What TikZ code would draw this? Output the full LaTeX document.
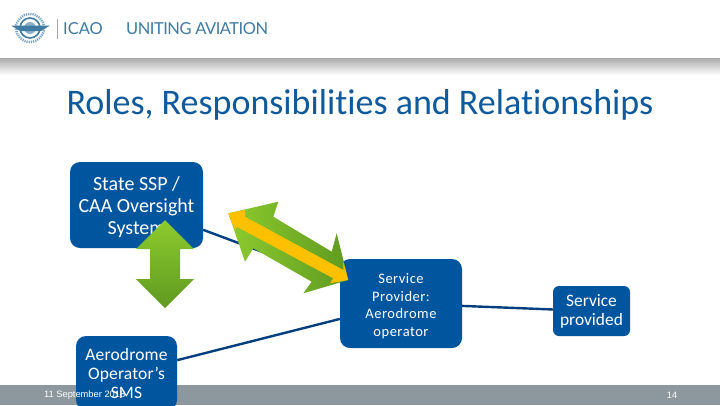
\documentclass[tikz,border=0pt]{standalone}
\usepackage{fontspec}
\setmainfont{Carlito}
\newfontfamily\footfont{Liberation Sans}
\newfontfamily\logofont{Lato}
\definecolor{boxblue}{HTML}{00559F}
\definecolor{linkblue}{HTML}{003F7F}
\definecolor{barcol}{HTML}{8C979E}
\definecolor{logoblue}{HTML}{3F7BA3}
\definecolor{titleblue}{HTML}{0F5A9C}
\definecolor{greenlight}{HTML}{8DCB2E}
\definecolor{greendark}{HTML}{5F9A20}
\definecolor{orangebar}{HTML}{FFC000}
\tikzset{
  bluebox/.style={fill=boxblue,text=white,rounded corners=#1,align=center,inner sep=0pt},
  bluebox/.default=8pt,
  link/.style={draw=linkblue,line width=2.4pt},
  footer/.style={text=white,font=\footfont\fontsize{9.3}{10}\selectfont,inner sep=0pt},
  logotext/.style={text=logoblue,inner sep=0pt,anchor=west,font=\logofont\fontsize{16.5}{18}\selectfont}
}
\begin{document}
\begin{tikzpicture}[x=1pt,y=-1pt]
\useasboundingbox (0,0) rectangle (720,405);
\fill[white] (0,0) rectangle (720,405);
% header shadow
\shade[top color=black!33,bottom color=white] (0,58) rectangle (720,75);
% logo
\draw[logoblue,line width=1.6pt] (30,28) circle (10);
\draw[logoblue!70,line width=2.4pt,dash pattern=on 1.2pt off 1pt] (30,28) circle (14);
\fill[logoblue!60] (30,28) circle (6);
\fill[logoblue] (11,25.5) -- (50,25.5) -- (41,31) -- (20,31) -- cycle;
\draw[black!35,line width=0.8pt] (57,19) -- (57,39);
\node[logotext] (icao) at (63,29) {ICAO};
\node[logotext] (uniting) at (126,29) {\addfontfeatures{LetterSpace=-3}UNITING AVIATION};
% title
\node[inner sep=0pt,text=titleblue,font=\fontsize{36}{40}\selectfont] (title) at (360,105) {\addfontfeatures{Ligatures=NoCommon}Roles, Responsibilities and Relationships};
% footer bar
\fill[barcol] (0,385) rectangle (720,405);
% boxes
\node[bluebox=10pt,minimum width=133pt,minimum height=86pt,font=\fontsize{20}{22}\selectfont] (state) at (136.5,205) {\rule{0pt}{19pt}State SSP /\\CAA Oversight\\System};
\node[bluebox=10pt,minimum width=101pt,minimum height=74pt,font=\fontsize{17.5}{19}\selectfont] (operator) at (126.5,373) {\addfontfeatures{LetterSpace=1}Aerodrome\\\addfontfeatures{LetterSpace=1}Operator's\\\addfontfeatures{LetterSpace=1}SMS};
\node[bluebox=10pt,minimum width=122pt,minimum height=89pt,font=\fontsize{14.5}{17.5}\selectfont] (provider) at (401,303.5) {\rule{0pt}{15pt}\addfontfeatures{LetterSpace=3.5}Service\\\addfontfeatures{LetterSpace=3.5}Provider:\\\addfontfeatures{LetterSpace=3.5}Aerodrome\\\addfontfeatures{LetterSpace=3.5}operator};
\node[bluebox=6pt,minimum width=77pt,minimum height=50pt,font=\fontsize{17.4}{19}\selectfont] (service) at (591.5,311) {Service\\provided};
% connectors
\draw[link] (state) -- (provider);
\draw[link] (operator) -- (provider);
\draw[link] (provider) -- (service);
% footer text
\node[footer,anchor=west] (date) at (44,395.5) {11 September 2018};
\node[footer] (page) at (672,395.5) {14};
% vertical double arrow
\shade[top color=greenlight,bottom color=greendark]
  (165,220) -- (194,249) -- (180,249) -- (180,279) -- (194,279) -- (165,308) -- (136,279) -- (150,279) -- (150,249) -- (136,249) -- cycle;
% diagonal double arrow
\shade[shading angle=60,left color=greenlight,right color=greendark]
  (228.3,213.3) -- (278.3,201.7) -- (273.3,216.7) -- (331.7,251.7) -- (336.7,233.3) -- (348.3,280) -- (303.3,293.3) -- (311.7,281.7) -- (253.3,248.3) -- (245,261.7) -- cycle;
\fill[orangebar]
  (228.3,213.3) -- (245,210) -- (245,216.7) -- (343.3,270) -- (343.3,261.7) -- (348.3,280) -- (330,283.3) -- (333.3,278.3) -- (236.7,226.7) -- (235,230) -- cycle;
\end{tikzpicture}
\end{document}
